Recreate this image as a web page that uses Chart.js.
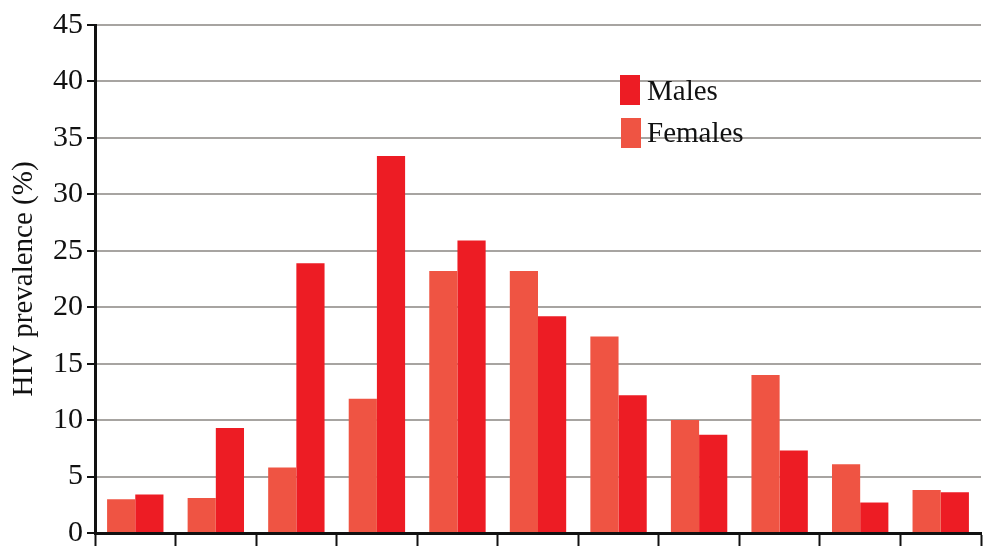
<!DOCTYPE html>
<html>
<head>
<meta charset="utf-8">
<script src="https://cdn.jsdelivr.net/npm/chart.js@4.4.1/dist/chart.umd.min.js"></script>
<style>
html,body{margin:0;padding:0;background:#fff;}
#wrap{width:995px;height:549px;position:relative;}
</style>
</head>
<body>
<div id="wrap"><canvas id="c" width="995" height="549"></canvas></div>
<script>
const categories = ['1','2','3','4','5','6','7','8','9','10','11'];
const females = [3.0, 3.1, 5.8, 11.9, 23.2, 23.2, 17.4, 10.0, 14.0, 6.1, 3.8];
const males = [3.4, 9.3, 23.9, 33.4, 25.9, 19.2, 12.2, 8.7, 7.3, 2.7, 3.6];
const yTicks = [0, 5, 10, 15, 20, 25, 30, 35, 40, 45];
const yTitle = 'HIV prevalence (%)';

const FEMALE = '#EF5443';
const MALE = '#ED1C24';
const FONT = '"Liberation Serif", "Times New Roman", serif';

const legendPlugin = {
  id: 'insideLegend',
  afterDraw(chart) {
    const ctx = chart.ctx;
    const items = [chart.data.datasets[1], chart.data.datasets[0]];
    const pos = [[620, 75, 100], [621, 118, 142]];
    ctx.save();
    ctx.font = '29px ' + FONT;
    ctx.textBaseline = 'alphabetic';
    items.forEach((ds, i) => {
      const [x, y, base] = pos[i];
      ctx.fillStyle = ds.backgroundColor;
      ctx.fillRect(x, y, 20, 30);
      ctx.fillStyle = '#111';
      ctx.fillText(ds.label, 647, base);
    });
    ctx.restore();
  }
};

new Chart(document.getElementById('c'), {
  type: 'bar',
  data: {
    labels: categories,
    datasets: [
      { label: 'Females', data: females, backgroundColor: FEMALE, borderWidth: 0 },
      { label: 'Males', data: males, backgroundColor: MALE, borderWidth: 0 }
    ]
  },
  options: {
    responsive: false,
    animation: false,
    devicePixelRatio: 1,
    layout: { padding: { top: 25, right: 14, left: 0, bottom: 0 } },
    datasets: { bar: { barPercentage: 1.0, categoryPercentage: 0.70 } },
    plugins: { legend: { display: false }, tooltip: { enabled: false } },
    scales: {
      x: {
        afterFit(scale) { scale.height = 16; scale.paddingLeft = 0; scale.paddingRight = 0; },
        ticks: { display: false },
        grid: { offset: true, drawOnChartArea: false, drawTicks: true, tickLength: 13, tickColor: '#111', tickWidth: 2, color: '#111' },
        border: { display: true, color: '#111', width: 3 }
      },
      y: {
        min: 0, max: 45,
        afterFit(scale) { scale.width = 95; scale.paddingTop = 0; scale.paddingBottom = 0; },
        afterBuildTicks(scale) { scale.ticks = yTicks.map(v => ({ value: v })); },
        ticks: { stepSize: 5, color: '#111', padding: 4, font: { family: FONT, size: 30 } },
        grid: { color: '#A7A4A1', lineWidth: 2, tickLength: 8, tickColor: '#111', tickWidth: 2 },
        border: { display: true, color: '#111', width: 3 },
        title: { display: true, text: yTitle, color: '#111', font: { family: FONT, size: 29 }, padding: { top: 7, bottom: 0 } }
      }
    }
  },
  plugins: [legendPlugin]
});
</script>
</body>
</html>
